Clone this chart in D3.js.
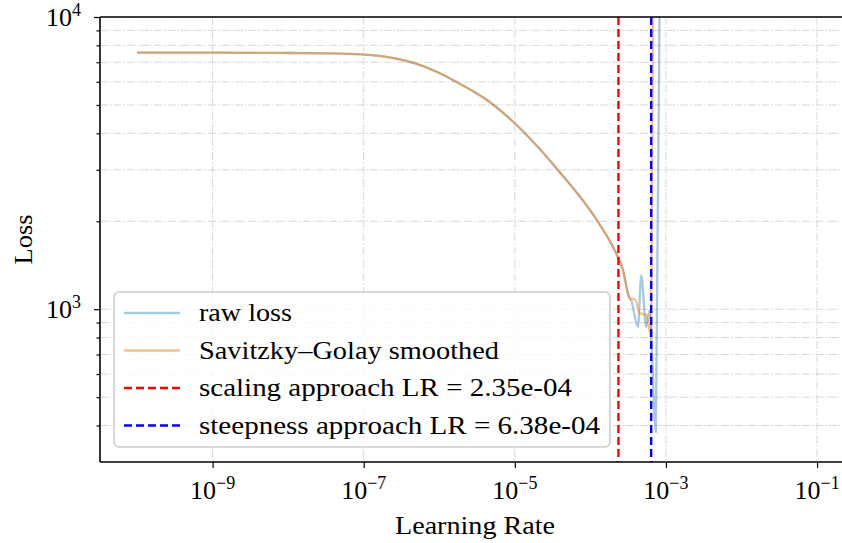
<!DOCTYPE html>
<html>
<head>
<meta charset="utf-8">
<title>Learning rate range test</title>
<style>
  body { margin: 0; background: #fff; }
  svg text { font-family: "Liberation Serif", "DejaVu Serif", serif; fill: #000; }
</style>
</head>
<body>
<svg></svg>
<script src="https://d3js.org/d3.v7.min.js"></script>
<script>
// values
var smoothLR   = [1e-10, 1e-9, 1e-8, 3.4e-8, 9.5e-8, 2.6e-7, 4.8e-7, 9.7e-7, 2.0e-6, 4.4e-6, 9.5e-6, 1.36e-5,
                  3.74e-5, 1.26e-4, 2.1e-4, 2.7e-4, 3.3e-4, 3.9e-4, 4.5e-4, 5.5e-4, 5.8e-4, 6.37e-4, 6.72e-4, 7.0e-4];
var smoothLoss = [7550, 7555, 7530, 7510, 7450, 7220, 6940, 6460, 5850, 5170, 4380, 4000,
                  2990, 1990, 1590, 1360, 1090, 1080, 970, 955, 905, 795, 10000, 100000];

var rawLR   = [1e-10, 1e-9, 1e-8, 3.4e-8, 9.5e-8, 2.6e-7, 4.8e-7, 9.7e-7, 2.0e-6, 4.4e-6, 9.5e-6, 1.36e-5,
               3.74e-5, 1.26e-4, 2.1e-4, 2.7e-4, 3.3e-4, 3.47e-4, 4.26e-4, 4.71e-4, 5.47e-4, 6.07e-4, 7.35e-4, 8.2e-4, 8.6e-4];
var rawLoss = [7550, 7555, 7530, 7510, 7450, 7220, 6940, 6460, 5850, 5170, 4380, 4000,
               2990, 1990, 1590, 1360, 1090, 1070, 870, 1305, 870, 990, 380, 10000, 100000];

var suggestedLR    = [2.35e-4, 6.38e-4];
var suggestedColor = ["#ff0000", "#0000ff"];
var legendLabels   = ["raw loss", "Savitzky\u2013Golay smoothed",
                      "scaling approach LR = 2.35e-04", "steepness approach LR = 6.38e-04"];

var xMajor = [1e-9, 1e-7, 1e-5, 1e-3, 1e-1];
var yMajor = [1e3, 1e4];
var yMinor = [400, 500, 600, 700, 800, 900, 2000, 3000, 4000, 5000, 6000, 7000, 8000, 9000];

var width = 842, height = 543;
var margin = {top: 17, right: 0, bottom: 81, left: 100};
var w = width - margin.left - margin.right;
var h = height - margin.top - margin.bottom;
var fontSize = 25;

var svg = d3.select("svg").attr("width", width).attr("height", height);

var x = d3.scaleLog().domain([Math.pow(10, -10.49), Math.pow(10, -0.67)]).range([0, w]);
var y = d3.scaleLog().domain([300, 1e4]).range([h, 0]);

svg.append("defs").append("clipPath").attr("id", "plotclip")
  .append("rect").attr("width", w).attr("height", h);

var g = svg.append("g").attr("transform", "translate(" + margin.left + "," + margin.top + ")");

// grid
var gridStyle = function(sel) {
  sel.attr("stroke", "#d2d2d2").attr("stroke-width", 0.9).attr("stroke-dasharray", "8,2,1.5,2").attr("fill", "none");
};
g.append("g").selectAll("line").data(yMajor.concat(yMinor)).enter().append("line")
  .attr("x1", 0).attr("x2", w)
  .attr("y1", function(d) { return y(d); }).attr("y2", function(d) { return y(d); })
  .call(gridStyle);
g.append("g").selectAll("line").data(xMajor).enter().append("line")
  .attr("y1", 0).attr("y2", h)
  .attr("x1", function(d) { return x(d); }).attr("x2", function(d) { return x(d); })
  .call(gridStyle);

// curves
var line = d3.line().curve(d3.curveMonotoneX)
  .x(function(d) { return x(d[0]); }).y(function(d) { return y(d[1]); });
var plot = g.append("g").attr("clip-path", "url(#plotclip)");

plot.append("path").datum(d3.zip(rawLR, rawLoss))
  .attr("d", line).attr("fill", "none")
  .attr("stroke", "#1f77b4").attr("stroke-opacity", 0.4).attr("stroke-width", 2.3)
  .attr("stroke-linejoin", "round");
plot.append("path").datum(d3.zip(smoothLR, smoothLoss))
  .attr("d", line).attr("fill", "none")
  .attr("stroke", "#ff7f0e").attr("stroke-opacity", 0.5).attr("stroke-width", 2.3)
  .attr("stroke-linejoin", "round");

plot.selectAll(".vline").data(suggestedLR).enter().append("line")
  .attr("class", "vline")
  .attr("x1", function(d) { return x(d); }).attr("x2", function(d) { return x(d); })
  .attr("y1", 0).attr("y2", h)
  .attr("stroke", function(d, i) { return suggestedColor[i]; })
  .attr("stroke-width", 2.4).attr("stroke-dasharray", "8,4");

// axes (ticks only, labels are drawn below)
var xAxis = g.append("g").attr("transform", "translate(0," + h + ")")
  .call(d3.axisBottom(x).tickValues(xMajor).tickSize(6).tickFormat(""));
var yAxis = g.append("g")
  .call(d3.axisLeft(y).tickValues(yMajor).tickSize(6).tickFormat(""));
var yMinorAxis = g.append("g")
  .call(d3.axisLeft(y).tickValues(yMinor).tickSize(3.5).tickFormat(""));
[xAxis, yAxis, yMinorAxis].forEach(function(a) {
  a.select(".domain").remove();
  a.selectAll(".tick line").attr("stroke", "#000").attr("stroke-width", 1.2);
});

// power-of-ten tick labels
function powLabel(sel, v) {
  var e = Math.round(Math.log10(v));
  sel.append("tspan").text("10");
  sel.append("tspan").attr("dy", -10).style("font-size", "18px")
    .text(e < 0 ? "\u2212" + (-e) : String(e));
}
g.append("g").selectAll("text").data(xMajor).enter().append("text")
  .attr("x", function(d) { return x(d); }).attr("y", h + 37)
  .attr("text-anchor", "middle").style("font-size", "26px")
  .each(function(d) { powLabel(d3.select(this), d); });
g.append("g").selectAll("text").data(yMajor).enter().append("text")
  .attr("x", -19).attr("y", function(d) { return y(d) + 9; })
  .attr("text-anchor", "end").style("font-size", "26px")
  .each(function(d) { powLabel(d3.select(this), d); });

// spines
g.append("line").attr("x1", 0).attr("x2", w).attr("y1", h).attr("y2", h).attr("stroke", "#000").attr("stroke-width", 1.6);
g.append("line").attr("x1", 0).attr("x2", w).attr("y1", 0).attr("y2", 0).attr("stroke", "#000").attr("stroke-width", 1.6);
g.append("line").attr("x1", 0).attr("x2", 0).attr("y1", 0).attr("y2", h).attr("stroke", "#000").attr("stroke-width", 1.6);

// axis titles
svg.append("text").attr("x", 475).attr("y", 534)
  .attr("text-anchor", "middle").style("font-size", fontSize + "px")
  .attr("textLength", 160).attr("lengthAdjust", "spacingAndGlyphs").text("Learning Rate");
svg.append("text").attr("transform", "translate(32," + (margin.top + h / 2) + ") rotate(-90)")
  .attr("text-anchor", "middle").style("font-size", fontSize + "px")
  .attr("textLength", 50).attr("lengthAdjust", "spacingAndGlyphs").text("Loss");

// legend
var legTextWidth = [93, 300, 373, 401];
var legStroke = ["#1f77b4", "#ff7f0e"].concat(suggestedColor);
var legOpacity = [0.4, 0.5, 1, 1];
var leg = g.append("g").attr("transform", "translate(14,275)");
leg.append("rect").attr("width", 496).attr("height", 155).attr("rx", 5)
  .attr("fill", "#fff").attr("fill-opacity", 0.8).attr("stroke", "#cccccc").attr("stroke-width", 1.6);
var rows = leg.selectAll(".row").data(legendLabels).enter().append("g")
  .attr("transform", function(d, i) { return "translate(0," + (21 + i * 37.5) + ")"; });
rows.append("line").attr("x1", 10).attr("x2", 66)
  .attr("stroke", function(d, i) { return legStroke[i]; })
  .attr("stroke-opacity", function(d, i) { return legOpacity[i]; })
  .attr("stroke-width", 2.4)
  .attr("stroke-dasharray", function(d, i) { return i > 1 ? "8,4" : null; });
rows.append("text").attr("x", 85).attr("y", 8).style("font-size", fontSize + "px")
  .attr("textLength", function(d, i) { return legTextWidth[i]; })
  .attr("lengthAdjust", "spacingAndGlyphs")
  .text(function(d) { return d; });
</script>
</body>
</html>
